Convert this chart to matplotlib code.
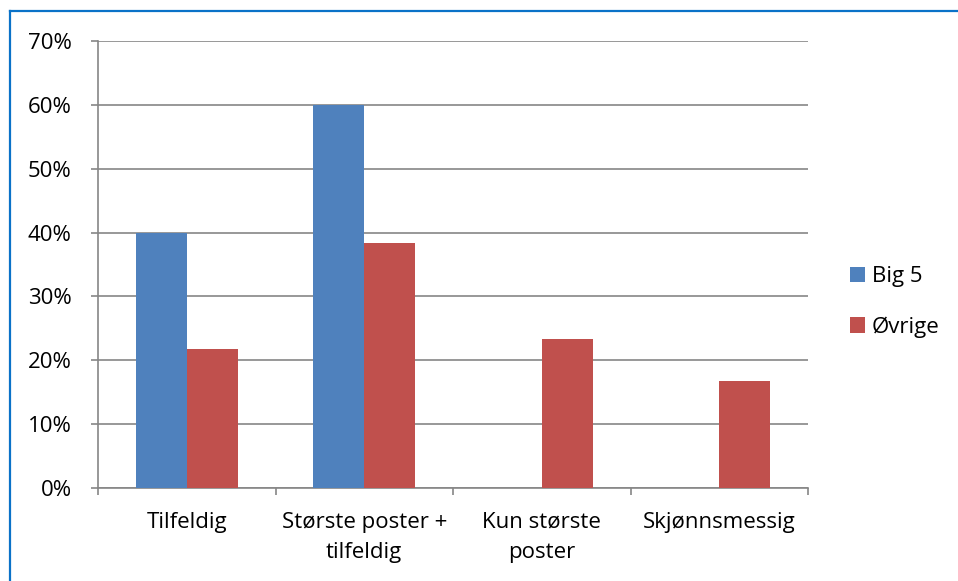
import numpy as np
import matplotlib.pyplot as plt
from matplotlib.patches import Patch
from matplotlib.lines import Line2D
from matplotlib.ticker import FuncFormatter, FixedLocator

categories = ['Tilfeldig', 'Største poster +\ntilfeldig', 'Kun største\nposter', 'Skjønnsmessig']
big5 = [40.0, 60.0, 0.0, 0.0]
ovrige = [21.7, 38.3, 23.3, 16.7]
series_names = ['Big 5', 'Øvrige']

blue = '#4F81BD'
red = '#C0504D'
grid_col = '#868686'
fs = 16

plt.rcParams['font.family'] = ['Open Sans', 'DejaVu Sans']

fig = plt.figure(figsize=(9.58, 5.81), dpi=100, facecolor='white')
ax = fig.add_axes([98 / 958, 1 - 488 / 581, 710 / 958, 447 / 581])

x = np.arange(len(categories))
w = 0.288
ax.bar(x - w / 2, big5, width=w, color=blue, zorder=3)
ax.bar(x + w / 2, ovrige, width=w, color=red, zorder=3)

ax.set_xlim(-0.5, len(categories) - 0.5)
ax.set_ylim(0, 70)
ax.set_yticks(np.arange(0, 71, 10))
ax.yaxis.set_major_formatter(FuncFormatter(lambda v, p: f'{int(v)}%'))
ax.yaxis.grid(True, color=grid_col, linewidth=1.2, zorder=0)

# category labels in the middle, tick marks at the boundaries
ax.set_xticks(x)
ax.set_xticklabels(categories, fontsize=fs, linespacing=1.6, color='black')
ax.tick_params(axis='x', which='major', length=0, pad=17)
ax.xaxis.set_minor_locator(FixedLocator(np.arange(-0.5, len(categories), 1.0)))
ax.tick_params(axis='x', which='minor', length=5, width=1.2, color=grid_col, direction='out')
ax.tick_params(axis='y', length=5, width=1.2, color=grid_col, direction='out', pad=14, labelsize=fs)

for s in ['top', 'right']:
    ax.spines[s].set_visible(False)
for s in ['left', 'bottom']:
    ax.spines[s].set_color(grid_col)
    ax.spines[s].set_linewidth(1.2)

handles = [Patch(facecolor=blue, edgecolor='none'), Patch(facecolor=red, edgecolor='none')]
fig.legend(handles, series_names, loc='center left', bbox_to_anchor=(850 / 958, 1 - 302 / 581),
           frameon=False, fontsize=fs, handlelength=0.68, handleheight=0.68,
           handletextpad=0.3, labelspacing=1.3, borderaxespad=0, borderpad=0)

# blue outline of the chart frame (top and left only visible)
fig.add_artist(Line2D([10 / 958, 1.0], [1 - 10.5 / 581, 1 - 10.5 / 581], transform=fig.transFigure,
                      color='#0A72C8', linewidth=1.6))
fig.add_artist(Line2D([10 / 958, 10 / 958], [0, 1 - 10.5 / 581], transform=fig.transFigure,
                      color='#0A72C8', linewidth=1.6))

fig.savefig('out.png', dpi=100, facecolor='white')
